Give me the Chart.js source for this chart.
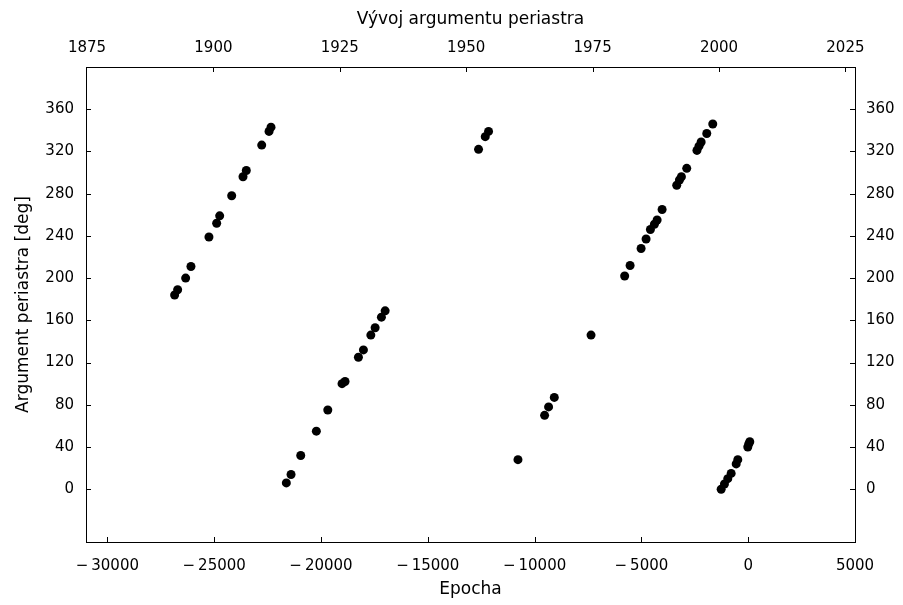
<!DOCTYPE html>
<html lang="cs">
<head>
<meta charset="UTF-8">
<title>Vývoj argumentu periastra</title>
<script src="https://cdn.jsdelivr.net/npm/chart.js"></script>
<style>
  body { margin: 0; background: #fff; }
  #graf { display: block; }
</style>
</head>
<body>
<canvas id="graf" width="903" height="605"></canvas>
<script>
// data
const epochs = [-26851, -26710, -26335, -26087, -25244, -24883, -24742, -24180, -23650, -23495, -22774, -22432, -22339,
  -21621, -21401, -20947, -20216, -19681, -19014, -18873, -18247, -18013, -17666, -17465, -17170, -16996,
  -12624, -12310, -12155, -10778, -9531, -9344, -9077, -7357,
  -5783, -5529, -5014, -4780, -4578, -4391, -4264, -4030, -3346, -3219, -3126, -2877, -2399, -2305, -2202, -1940, -1659,
  -1265, -1111, -956, -797, -562, -487, -19, 28, 75];
const omega = [184, 189, 200, 211, 239, 252, 259, 278, 296, 302, 326, 339, 343,
  6, 14, 32, 55, 75, 100, 102, 125, 132, 146, 153, 163, 169,
  322, 334, 339, 28, 70, 78, 87, 146,
  202, 212, 228, 237, 246, 251, 255, 265, 288, 293, 296, 304, 321, 325, 329, 337, 346,
  0, 5, 10, 15, 24, 28, 40, 43, 45];

const epochTicks = [-30000, -25000, -20000, -15000, -10000, -5000, 0, 5000];
const yearTicks = [1875, 1900, 1925, 1950, 1975, 2000, 2025];
const omegaTicks = [0, 40, 80, 120, 160, 200, 240, 280, 320, 360];

const tickFont = { family: 'DejaVu Sans', size: 15 };
const titleFont = { family: 'DejaVu Sans', size: 17 };

// kratke carky dovnitr grafu
const innerTicks = {
  id: 'innerTicks',
  afterDraw(chart) {
    const { ctx, chartArea: a, scales } = chart;
    ctx.save();
    ctx.strokeStyle = '#000';
    ctx.lineWidth = 1;
    ctx.beginPath();
    ['x', 'x2'].forEach(id => {
      const s = scales[id];
      s.ticks.forEach(t => {
        const px = Math.round(s.getPixelForValue(t.value)) + 0.5;
        if (px <= a.left + 2 || px >= a.right - 2) return;
        const y0 = id === 'x' ? a.bottom : a.top;
        ctx.moveTo(px, y0);
        ctx.lineTo(px, id === 'x' ? y0 - 5 : y0 + 5);
      });
    });
    ['y', 'y2'].forEach(id => {
      const s = scales[id];
      s.ticks.forEach(t => {
        const py = Math.round(s.getPixelForValue(t.value)) + 0.5;
        const x0 = id === 'y' ? a.left : a.right;
        ctx.moveTo(x0, py);
        ctx.lineTo(id === 'y' ? x0 + 5 : x0 - 5, py);
      });
    });
    ctx.stroke();
    ctx.restore();
  }
};

const fmt = v => v < 0 ? '\u2212\u2009' + Math.abs(v) : String(v);

new Chart(document.getElementById('graf'), {
  type: 'scatter',
  data: {
    datasets: [{
      data: epochs.map((e, i) => ({ x: e, y: omega[i] })),
      backgroundColor: '#000',
      borderWidth: 0,
      pointRadius: 4.5,
      xAxisID: 'x',
      yAxisID: 'y'
    }]
  },
  plugins: [innerTicks],
  options: {
    responsive: false,
    animation: false,
    layout: { padding: 0 },
    plugins: { legend: { display: false }, tooltip: { enabled: false } },
    scales: {
      x: {
        type: 'linear', position: 'bottom', min: -31000, max: 5000,
        grid: { display: false },
        border: { color: '#000', width: 1 },
        ticks: { font: tickFont, color: '#000', padding: 7, maxRotation: 0, autoSkip: false, callback: fmt },
        afterBuildTicks: s => { s.ticks = epochTicks.map(v => ({ value: v })); },
        afterFit: s => { s.height = 63; },
        title: { display: true, text: 'Epocha', font: titleFont, color: '#000', padding: { top: 0, bottom: 5 } }
      },
      x2: {
        type: 'linear', position: 'top', min: 1874.8, max: 2026.9,
        grid: { display: false },
        border: { color: '#000', width: 1 },
        ticks: { font: tickFont, color: '#000', padding: 2, maxRotation: 0, autoSkip: false, callback: v => String(v) },
        afterBuildTicks: s => { s.ticks = yearTicks.map(v => ({ value: v })); },
        afterFit: s => { s.height = 67; },
        title: { display: true, text: 'Vývoj argumentu periastra', font: titleFont, color: '#000', padding: { top: 9, bottom: 0 } }
      },
      y: {
        type: 'linear', position: 'left', min: -50, max: 400,
        grid: { display: false },
        border: { color: '#000', width: 1 },
        ticks: { font: tickFont, color: '#000', padding: 4, autoSkip: false },
        afterBuildTicks: s => { s.ticks = omegaTicks.map(v => ({ value: v })); },
        afterFit: s => { s.width = 86; },
        title: { display: true, text: 'Argument periastra [deg]', font: titleFont, color: '#000', padding: { top: 13, bottom: 0 } }
      },
      y2: {
        type: 'linear', position: 'right', min: -50, max: 400,
        grid: { display: false },
        border: { color: '#000', width: 1 },
        ticks: { font: tickFont, color: '#000', padding: 3, autoSkip: false },
        afterBuildTicks: s => { s.ticks = omegaTicks.map(v => ({ value: v })); },
        afterFit: s => { s.width = 48; }
      }
    }
  }
});
</script>
</body>
</html>
